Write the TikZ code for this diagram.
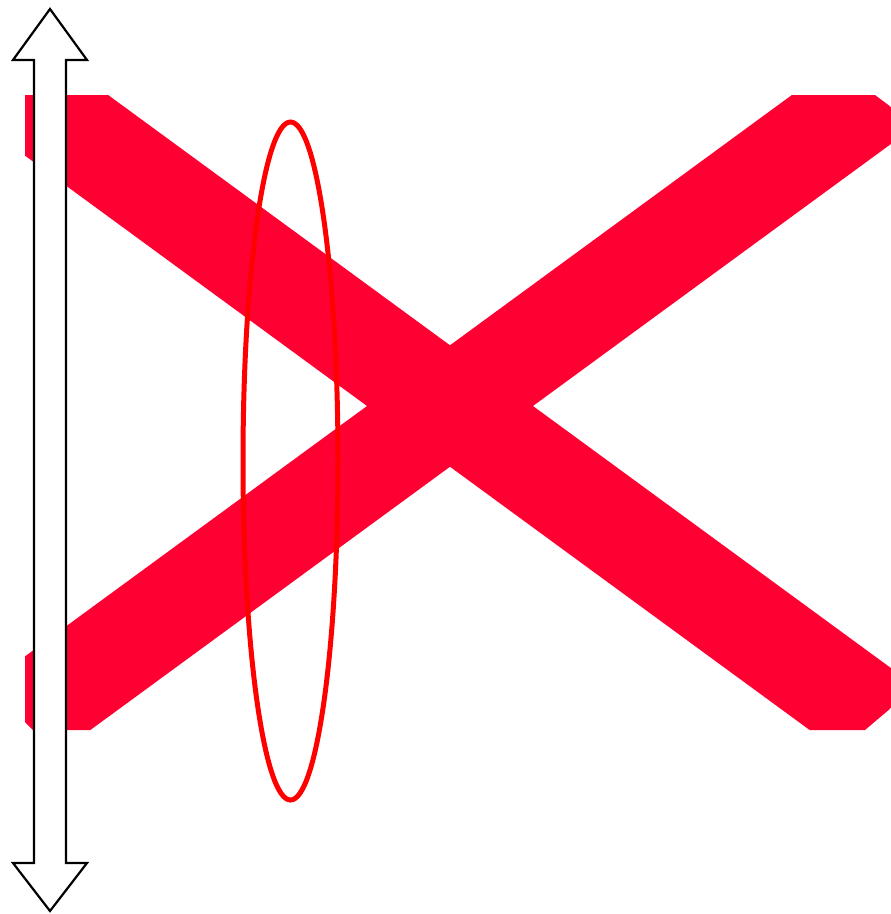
\documentclass[tikz,border=0pt]{standalone}
\usepackage{tikz}
\definecolor{cross}{HTML}{FF0033}
\definecolor{ring}{HTML}{FF0000}
\definecolor{outline}{HTML}{000000}

\begin{document}
\begin{tikzpicture}[x=1pt, y=-1pt, band/.style={line width=98pt, draw=cross}]
  \useasboundingbox (0, 0) rectangle (891, 914);

  % Cross
  \begin{scope}
    \clip (25, 95) -- (875, 95) -- (891, 107) -- (891, 708) -- (865, 730)
      -- (33, 730) -- (25, 722) -- cycle;
    \draw[band] (-100, 3.4) -- (1000, 808.6);
    \draw[band] (-100, 808.6) -- (1000, 3.4);
  \end{scope}

  % Ellipse
  \draw[line width=5pt, draw=ring] (290.5, 461) ellipse [x radius=47.5, y radius=339];

  % Double arrow
  \filldraw[line width=2.2pt, draw=outline, fill=white]
    (50, 9) -- (87, 60) -- (66, 60) -- (66, 863) -- (87, 863) -- (50, 911)
    -- (13, 863) -- (34, 863) -- (34, 60) -- (13, 60) -- cycle;
\end{tikzpicture}
\end{document}
